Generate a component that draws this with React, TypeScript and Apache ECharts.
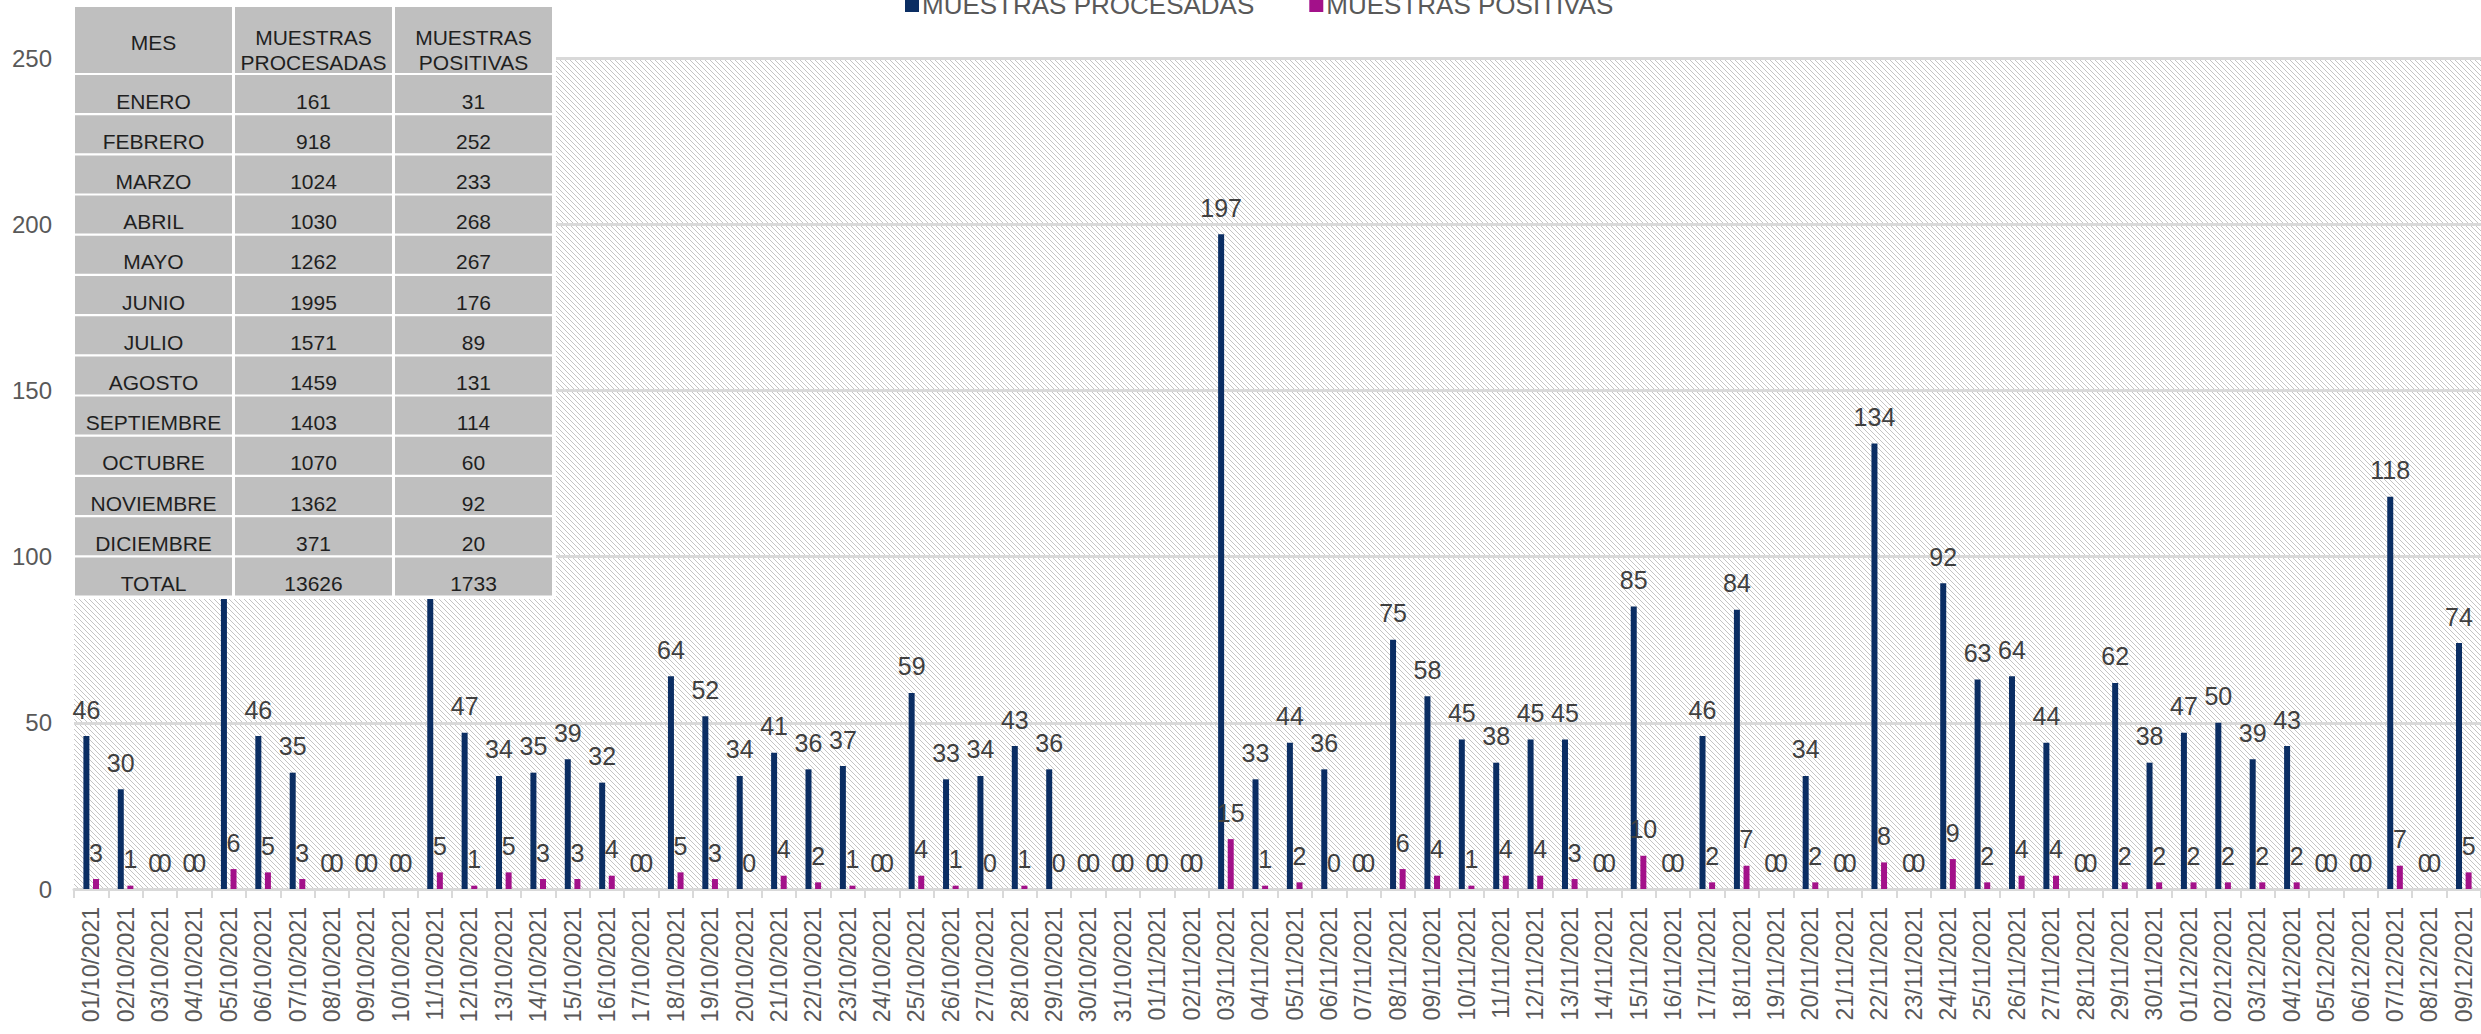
import React, { useEffect, useRef } from "react";
import * as echarts from "echarts";

const W = 2481;
const H = 1034;

// Daily values (Oct 1-31, Nov 1-30, Dec 1-9 2021)
const procOct = [46, 30, 0, 0, 128, 46, 35, 0, 0, 0, 129, 47, 34, 35, 39, 32, 0, 64, 52, 34, 41, 36, 37, 0, 59, 33, 34, 43, 36, 0, 0];
const posOct = [3, 1, 0, 0, 6, 5, 3, 0, 0, 0, 5, 1, 5, 3, 3, 4, 0, 5, 3, 0, 4, 2, 1, 0, 4, 1, 0, 1, 0, 0, 0];
const procNov = [0, 0, 197, 33, 44, 36, 0, 75, 58, 45, 38, 45, 45, 0, 85, 0, 46, 84, 0, 34, 0, 134, 0, 92, 63, 64, 44, 0, 62, 38];
const posNov = [0, 0, 15, 1, 2, 0, 0, 6, 4, 1, 4, 4, 3, 0, 10, 0, 2, 7, 0, 2, 0, 8, 0, 9, 2, 4, 4, 0, 2, 2];
const procDec = [47, 50, 39, 43, 0, 0, 118, 0, 74];
const posDec = [2, 2, 2, 2, 0, 0, 7, 0, 5];

// Day indices whose value labels are hidden behind the monthly table
const hiddenLabelIdx = [4, 10];

const monthDays = [
  { m: "10", n: 31 },
  { m: "11", n: 30 },
  { m: "12", n: 9 },
];

// Monthly table
const tableMonths = ["ENERO", "FEBRERO", "MARZO", "ABRIL", "MAYO", "JUNIO", "JULIO", "AGOSTO", "SEPTIEMBRE", "OCTUBRE", "NOVIEMBRE", "DICIEMBRE"];
const tableProc = [161, 918, 1024, 1030, 1262, 1995, 1571, 1459, 1403, 1070, 1362, 371];
const tablePos = [31, 252, 233, 268, 267, 176, 89, 131, 114, 60, 92, 20];

const yTicks = { min: 0, max: 250, interval: 50 };

const seriesNames = ["MUESTRAS PROCESADAS", "MUESTRAS POSITIVAS"];
const seriesColors = ["#0B2E63", "#A3118A"];

const FONT = "'Liberation Sans', Roboto, sans-serif";

function buildCategories(): string[] {
  const out: string[] = [];
  monthDays.forEach(({ m, n }) => {
    for (let d = 1; d <= n; d++) {
      out.push(`${String(d).padStart(2, "0")}/${m}/2021`);
    }
  });
  return out;
}

function hatchUrl(): string {
  const s = 5;
  const c = document.createElement("canvas");
  c.width = s;
  c.height = s;
  const ctx = c.getContext("2d")!;
  const img = ctx.createImageData(s, s);
  for (let y = 0; y < s; y++) {
    for (let x = 0; x < s; x++) {
      const i = (y * s + x) * 4;
      const on = (((x - y) % s) + s) % s === 0;
      const v = on ? 196 : 255;
      img.data[i] = v;
      img.data[i + 1] = v;
      img.data[i + 2] = v;
      img.data[i + 3] = 255;
    }
  }
  ctx.putImageData(img, 0, 0);
  return c.toDataURL();
}

function buildTable(): any[] {
  const cols = [
    [75, 232],
    [235, 392],
    [395, 552],
  ];
  const headerTop = 7;
  const headerBottom = 73;
  const rowTop0 = 75;
  const rowPitch = 40.2;
  const rowH = 38;
  const cellFill = "#BFBFBF";
  const txt = "#1F1F1F";
  const els: any[] = [];
  els.push({
    type: "rect",
    shape: { x: 72, y: 4, width: 484, height: 595 },
    style: { fill: "#FFFFFF" },
    z: 100,
  });
  const headers = ["MES", "MUESTRAS\nPROCESADAS", "MUESTRAS\nPOSITIVAS"];
  cols.forEach(([x0, x1], ci) => {
    els.push({
      type: "rect",
      shape: { x: x0, y: headerTop, width: x1 - x0, height: headerBottom - headerTop },
      style: { fill: cellFill },
      z: 101,
    });
    els.push({
      type: "text",
      x: (x0 + x1) / 2,
      y: ci === 0 ? 42 : 50,
      style: {
        text: headers[ci],
        fill: txt,
        font: `21px ${FONT}`,
        lineHeight: 25,
        textAlign: "center",
        textVerticalAlign: "middle",
      },
      z: 102,
    });
  });
  const rows: string[][] = tableMonths.map((m, i) => [m, String(tableProc[i]), String(tablePos[i])]);
  rows.push([
    "TOTAL",
    String(tableProc.reduce((a, b) => a + b, 0)),
    String(tablePos.reduce((a, b) => a + b, 0)),
  ]);
  rows.forEach((r, ri) => {
    const top = rowTop0 + ri * rowPitch;
    cols.forEach(([x0, x1], ci) => {
      els.push({
        type: "rect",
        shape: { x: x0, y: top, width: x1 - x0, height: rowH },
        style: { fill: cellFill },
        z: 101,
      });
      els.push({
        type: "text",
        x: (x0 + x1) / 2,
        y: top + 26,
        style: {
          text: r[ci],
          fill: txt,
          font: `21px ${FONT}`,
          textAlign: "center",
          textVerticalAlign: "middle",
        },
        z: 102,
      });
    });
  });
  return els;
}

export default function App() {
  const ref = useRef<HTMLDivElement>(null);
  useEffect(() => {
    document.body.style.margin = "0";
    const chart = echarts.init(ref.current!, null, { renderer: "svg", width: W, height: H });
    const categories = buildCategories();
    const proc = [...procOct, ...procNov, ...procDec].map((v, i) =>
      hiddenLabelIdx.includes(i) ? { value: v, label: { show: false } } : v
    );
    const pos = [...posOct, ...posNov, ...posDec];
    const label = {
      show: true,
      position: "top",
      distance: 14,
      color: "#404040",
      fontSize: 25,
      fontFamily: FONT,
    };
    const option: any = {
      animation: false,
      backgroundColor: "#FFFFFF",
      textStyle: { fontFamily: FONT },
      legend: {
        data: seriesNames,
        left: 905,
        top: -8,
        padding: 0,
        icon: "rect",
        itemWidth: 14,
        itemHeight: 14,
        itemGap: 55,
        textStyle: { fontSize: 26, color: "#595959", fontFamily: FONT, padding: [0, 0, 0, -2] },
      },
      grid: {
        left: 74,
        right: 0,
        top: 58,
        bottom: 145,
        show: true,
        borderWidth: 0,
        backgroundColor: { image: hatchUrl(), repeat: "repeat", imageWidth: 5, imageHeight: 5 },
      },
      xAxis: {
        type: "category",
        data: categories,
        axisLine: { lineStyle: { color: "#D9D9D9", width: 3 } },
        axisTick: { show: true, alignWithLabel: false, length: 9, lineStyle: { color: "#D9D9D9", width: 2 } },
        axisLabel: {
          interval: 0,
          rotate: 90,
          margin: 18,
          color: "#595959",
          fontSize: 23,
          fontFamily: FONT,
        },
      },
      yAxis: {
        type: "value",
        min: yTicks.min,
        max: yTicks.max,
        interval: yTicks.interval,
        axisLine: { show: false },
        axisTick: { show: false },
        axisLabel: { margin: 22, color: "#595959", fontSize: 24, fontFamily: FONT },
        splitLine: { lineStyle: { color: "#D9D9D9", width: 3 } },
      },
      series: [
        {
          name: seriesNames[0],
          type: "bar",
          data: proc,
          barWidth: 6,
          barGap: "60%",
          itemStyle: { color: seriesColors[0] },
          label,
        },
        {
          name: seriesNames[1],
          type: "bar",
          data: pos,
          barWidth: 6,
          barGap: "60%",
          itemStyle: { color: seriesColors[1] },
          label,
        },
      ],
      graphic: buildTable(),
    };
    chart.setOption(option);
    return () => chart.dispose();
  }, []);
  return <div ref={ref} style={{ width: W, height: H }} />;
}
